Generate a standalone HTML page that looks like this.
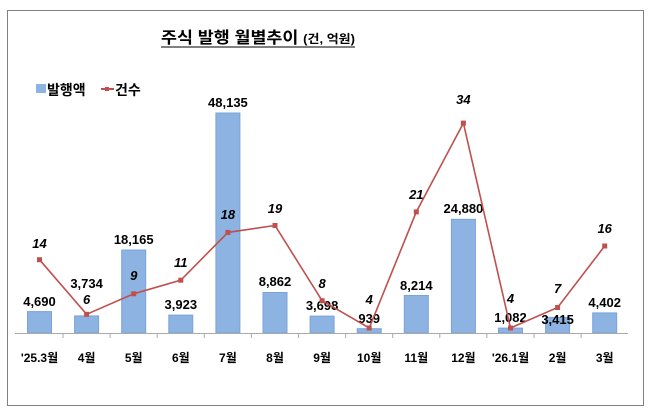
<!DOCTYPE html><html><head><meta charset="utf-8"><style>body{margin:0;background:#fff}svg{display:block}text{font-family:"Liberation Sans","Noto Sans CJK KR",sans-serif;font-weight:bold;fill:#000}</style></head><body>
<svg width="648" height="413" xmlns="http://www.w3.org/2000/svg">
<rect x="7.5" y="10.5" width="636" height="395" fill="#fff" stroke="#000" stroke-dasharray="1,1"/>
<text x="161" y="43" font-size="16" textLength="194" lengthAdjust="spacingAndGlyphs">주식 발행 월별추이 <tspan font-size="12">(건, 억원)</tspan></text>
<line x1="161" y1="47" x2="355" y2="47" stroke="#000" stroke-width="1"/>
<rect x="36" y="84" width="10" height="9" fill="#8db3e2"/>
<text x="47" y="95" font-size="14">발행액</text>
<line x1="101" y1="89" x2="114" y2="89" stroke="#c0504d" stroke-width="2"/><rect x="105" y="87" width="4" height="4" fill="#c0504d"/>
<text x="115" y="95" font-size="14">건수</text>
<g fill="#8db3e2" stroke="#7aa3d8">
<rect x="27.5" y="311.6" width="24" height="21.4"/>
<rect x="74.6" y="315.9" width="24" height="17.1"/>
<rect x="121.7" y="250" width="24" height="83"/>
<rect x="168.8" y="315.1" width="24" height="17.9"/>
<rect x="215.9" y="113" width="24" height="220"/>
<rect x="263" y="292.5" width="24" height="40.5"/>
<rect x="310.1" y="316.1" width="24" height="16.9"/>
<rect x="357.2" y="328.7" width="24" height="4.3"/>
<rect x="404.3" y="295.5" width="24" height="37.5"/>
<rect x="451.4" y="219.3" width="24" height="113.7"/>
<rect x="498.5" y="328.1" width="24" height="4.9"/>
<rect x="545.6" y="317.4" width="24" height="15.6"/>
<rect x="592.7" y="312.9" width="24" height="20.1"/>
</g>
<line x1="15" y1="333.5" x2="628" y2="333.5" stroke="#aaa"/>
<g stroke="#aaa">
<line x1="63" y1="333" x2="63" y2="338"/><line x1="110.1" y1="333" x2="110.1" y2="338"/><line x1="157.2" y1="333" x2="157.2" y2="338"/><line x1="204.3" y1="333" x2="204.3" y2="338"/><line x1="251.4" y1="333" x2="251.4" y2="338"/><line x1="298.5" y1="333" x2="298.5" y2="338"/><line x1="345.6" y1="333" x2="345.6" y2="338"/><line x1="392.7" y1="333" x2="392.7" y2="338"/><line x1="439.8" y1="333" x2="439.8" y2="338"/><line x1="486.9" y1="333" x2="486.9" y2="338"/><line x1="534" y1="333" x2="534" y2="338"/><line x1="581.1" y1="333" x2="581.1" y2="338"/>
</g>
<g font-size="13" text-anchor="middle">
<text x="39.5" y="306">4,690</text>
<text x="86.6" y="288">3,734</text>
<text x="133.7" y="244">18,165</text>
<text x="180.8" y="309">3,923</text>
<text x="227.9" y="107">48,135</text>
<text x="275" y="286">8,862</text>
<text x="322.1" y="310">3,698</text>
<text x="369.2" y="323">939</text>
<text x="416.3" y="290">8,214</text>
<text x="463.4" y="213">24,880</text>
<text x="510.5" y="322">1,082</text>
<text x="557.6" y="324">3,415</text>
<text x="604.7" y="307">4,402</text>
</g>
<g font-size="12" text-anchor="middle">
<text x="39.5" y="362">'25.3월</text><text x="86.6" y="362">4월</text><text x="133.7" y="362">5월</text><text x="180.8" y="362">6월</text><text x="227.9" y="362">7월</text><text x="275" y="362">8월</text><text x="322.1" y="362">9월</text><text x="369.2" y="362">10월</text><text x="416.3" y="362">11월</text><text x="463.4" y="362">12월</text><text x="510.5" y="362">'26.1월</text><text x="557.6" y="362">2월</text><text x="604.7" y="362">3월</text>
</g>
<polyline points="39.5,259.7 86.6,314.3 133.7,293.8 180.8,280.2 227.9,232.4 275,225.5 322.1,300.7 369.2,328 416.3,211.9 463.4,123.1 510.5,328 557.6,307.5 604.7,246" fill="none" stroke="#c0504d" stroke-width="1.6"/>
<g fill="#c0504d">
<rect x="37" y="257.2" width="5" height="5"/><rect x="84.1" y="311.8" width="5" height="5"/><rect x="131.2" y="291.3" width="5" height="5"/><rect x="178.3" y="277.7" width="5" height="5"/><rect x="225.4" y="229.9" width="5" height="5"/><rect x="272.5" y="223" width="5" height="5"/><rect x="319.6" y="298.2" width="5" height="5"/><rect x="366.7" y="325.5" width="5" height="5"/><rect x="413.8" y="209.4" width="5" height="5"/><rect x="460.9" y="120.6" width="5" height="5"/><rect x="508" y="325.5" width="5" height="5"/><rect x="555.1" y="305" width="5" height="5"/><rect x="602.2" y="243.5" width="5" height="5"/>
</g>
<g font-size="13" font-style="italic" text-anchor="middle">
<text x="39.5" y="248">14</text><text x="86.6" y="304">6</text><text x="133.7" y="280">9</text><text x="180.8" y="267">11</text><text x="227.9" y="219">18</text><text x="275" y="213">19</text><text x="322.1" y="288">8</text><text x="369.2" y="304">4</text><text x="416.3" y="199">21</text><text x="463.4" y="104">34</text><text x="510.5" y="303">4</text><text x="557.6" y="293">7</text><text x="604.7" y="233">16</text>
</g>
</svg></body></html>
